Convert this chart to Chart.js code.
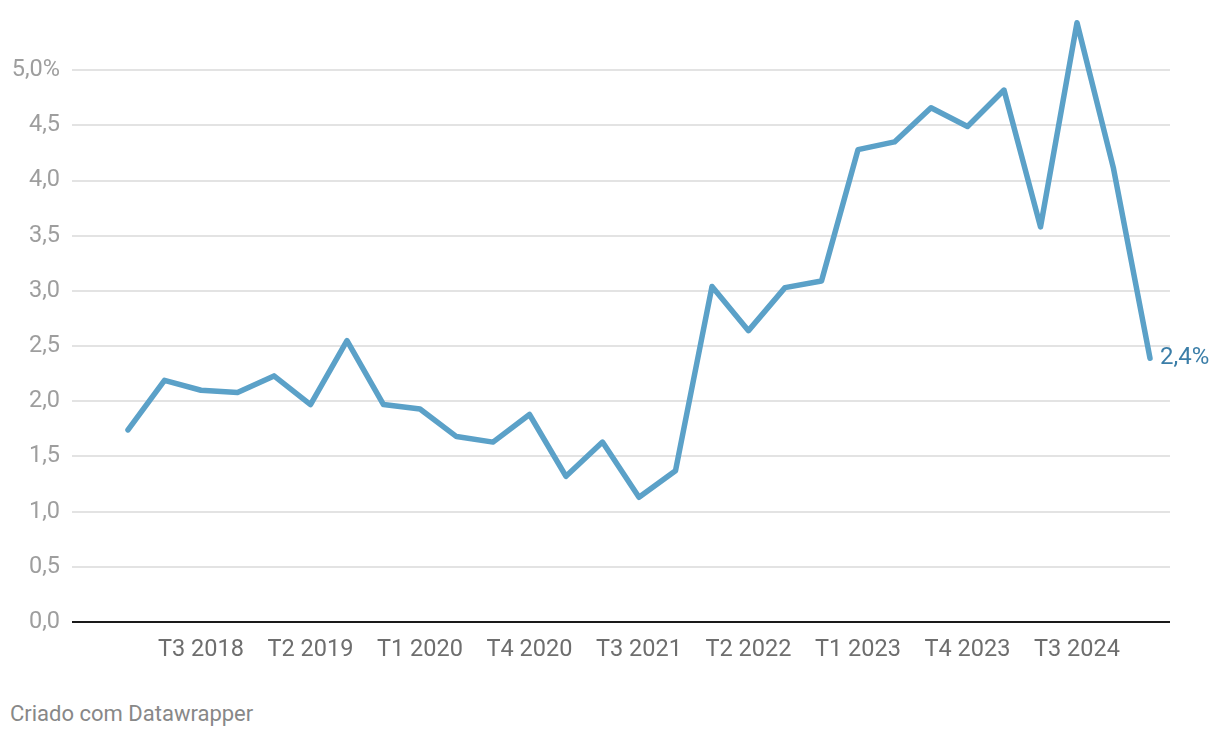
<!DOCTYPE html>
<html>
<head>
<meta charset="utf-8">
<script src="https://cdn.jsdelivr.net/npm/chart.js@4"></script>
<style>
    body { margin: 0; background: #fff; font-family: Roboto, sans-serif; }
    #wrap { position: relative; width: 1220px; height: 738px; }
    #footer { position: absolute; left: 10px; top: 701px; font-size: 22px; color: #888; }
</style>
</head>
<body>
<div id="wrap">
    <canvas id="chart" width="1220" height="690"></canvas>
    <div id="footer">Criado com Datawrapper</div>
</div>
<script>
// quarters T1 2018 .. T1 2025
const quarters = [
    'T1 2018', 'T2 2018', 'T3 2018', 'T4 2018',
    'T1 2019', 'T2 2019', 'T3 2019', 'T4 2019',
    'T1 2020', 'T2 2020', 'T3 2020', 'T4 2020',
    'T1 2021', 'T2 2021', 'T3 2021', 'T4 2021',
    'T1 2022', 'T2 2022', 'T3 2022', 'T4 2022',
    'T1 2023', 'T2 2023', 'T3 2023', 'T4 2023',
    'T1 2024', 'T2 2024', 'T3 2024', 'T4 2024',
    'T1 2025'
];
const values = [
    1.74, 2.19, 2.10, 2.08,
    2.23, 1.97, 2.55, 1.97,
    1.93, 1.68, 1.63, 1.88,
    1.32, 1.63, 1.13, 1.37,
    3.04, 2.64, 3.03, 3.09,
    4.28, 4.35, 4.66, 4.49,
    4.82, 3.58, 5.43, 4.11,
    2.39
];
const xTickLabels = ['T3 2018', 'T2 2019', 'T1 2020', 'T4 2020', 'T3 2021', 'T2 2022', 'T1 2023', 'T4 2023', 'T3 2024'];
const yTicks = [0, 0.5, 1, 1.5, 2, 2.5, 3, 3.5, 4, 4.5, 5];
const lastLabel = '2,4%';

const lineColor = '#5ba1c8';

const endLabel = {
    id: 'endLabel',
    afterDatasetsDraw(chart) {
        const ctx = chart.ctx;
        const i = values.length - 1;
        const x = chart.scales.x.getPixelForValue(i);
        const y = chart.scales.y.getPixelForValue(values[i]);
        ctx.save();
        ctx.font = '24px Roboto';
        ctx.fillStyle = '#3b7ea8';
        ctx.textAlign = 'left';
        ctx.textBaseline = 'middle';
        ctx.fillText(lastLabel, x + 10, y);
        ctx.restore();
    }
};

new Chart(document.getElementById('chart').getContext('2d'), {
    type: 'line',
    data: {
        datasets: [{
            data: values.map((v, i) => ({ x: i, y: v })),
            borderColor: lineColor,
            borderWidth: 5.5,
            borderJoinStyle: 'round',
            borderCapStyle: 'round',
            pointRadius: 0,
            tension: 0
        }]
    },
    options: {
        responsive: false,
        animation: false,
        layout: { padding: { top: 15, right: 50, left: 0, bottom: 0 } },
        plugins: { legend: { display: false }, tooltip: { enabled: false } },
        scales: {
            x: {
                type: 'linear',
                min: -1.534,
                max: 28.548,
                afterBuildTicks: scale => {
                    scale.ticks = xTickLabels.map(l => ({ value: quarters.indexOf(l) }));
                },
                afterFit: scale => {
                    scale.height = 68;
                    scale.paddingLeft = 0;
                    scale.paddingRight = 0;
                },
                grid: { display: false },
                border: { display: false },
                ticks: {
                    autoSkip: false,
                    maxRotation: 0,
                    padding: 6,
                    color: '#6e6e6e',
                    font: { family: 'Roboto', size: 23.5 },
                    callback: v => quarters[v]
                }
            },
            y: {
                min: 0,
                max: 5.5,
                afterBuildTicks: scale => {
                    scale.ticks = yTicks.map(v => ({ value: v }));
                },
                afterFit: scale => {
                    scale.width = 72;
                    scale.paddingTop = 0;
                    scale.paddingBottom = 0;
                },
                border: { display: false },
                grid: {
                    drawTicks: false,
                    color: c => c.tick.value === 0 ? '#1a1a1a' : '#e3e3e3',
                    lineWidth: 2
                },
                ticks: {
                    padding: 12,
                    color: '#9e9e9e',
                    font: { family: 'Roboto', size: 23.5 },
                    callback: v => v.toFixed(1).replace('.', ',') + (v === 5 ? '%' : '')
                }
            }
        }
    },
    plugins: [endLabel]
});
</script>
</body>
</html>
